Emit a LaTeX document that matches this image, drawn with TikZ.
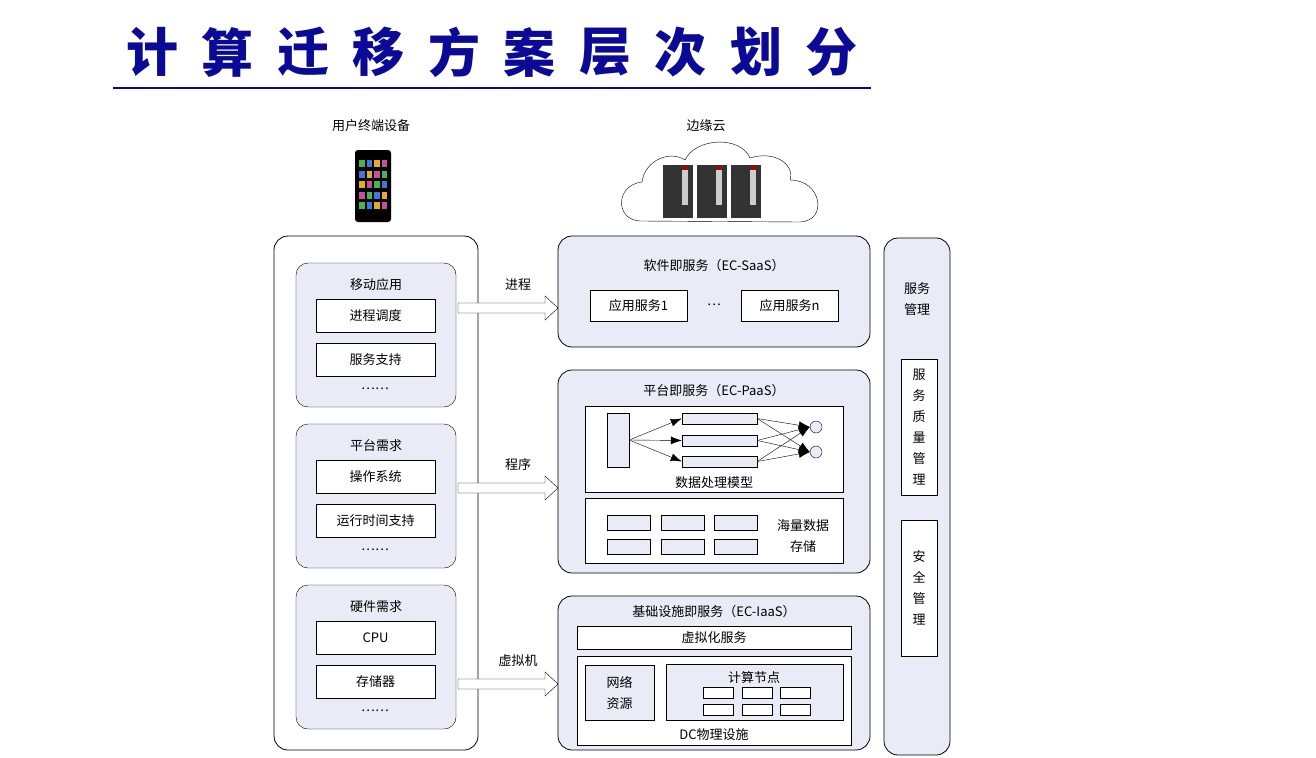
\documentclass[tikz,border=0pt]{standalone}
\usepackage{fontspec}
\setmainfont{Liberation Serif}
\newfontfamily\cjk{Noto Sans CJK SC}
\usetikzlibrary{positioning,arrows.meta}
\definecolor{lav}{RGB}{233,236,247}
\definecolor{titleblue}{RGB}{10,10,150}
\definecolor{app0}{RGB}{70,180,80}
\definecolor{app1}{RGB}{60,120,220}
\definecolor{app2}{RGB}{230,170,40}
\definecolor{app3}{RGB}{200,80,150}
\tikzset{
  panel/.style={draw, thick, rounded corners=14pt, fill=lav},
  grp/.style={draw, rounded corners=12pt, fill=lav},
  wbox/.style={draw, fill=white},
  bar/.style={draw, fill=lav},
  lbl/.style={font=\cjk\fontsize{13}{21}\selectfont, inner sep=1pt},
  blockarrow/.style={draw, fill=white, thin}
}
\begin{document}
\begin{tikzpicture}[x=1pt,y=-1pt]
    \useasboundingbox (0,0) rectangle (1316,757);
    %Title
    \foreach \c [count=\i] in {计,算,迁,移,方,案,层,次,划,分}
      \node[font=\cjk\bfseries\fontsize{52}{56}\selectfont, text=titleblue] at (152+75.5*\i-75.5,52) {\c};
    \draw[titleblue, line width=2.5pt] (113,88) -- (871,88);
    %Headers
    \node[lbl] (hdev) at (371,126) {用户终端设备};
    \node[lbl] (hedge) at (706,126) {边缘云};
    %Phone
    \fill[black, rounded corners=3pt] (355,150) rectangle (391,222);
    \foreach \r in {0,...,4}
      \foreach \c in {0,...,3}{
        \pgfmathtruncatemacro\m{mod(\r+\c,4)}
        \fill[app\m] (359+\c*7.5,160+\r*10.5) rectangle +(5.5,7);
      }
    %Cloud
    \draw[fill=white] (640,221) .. controls (615,220) and (615,185) .. (642,182)
      .. controls (645,160) and (670,150) .. (685,160)
      .. controls (695,138) and (740,135) .. (750,158)
      .. controls (775,150) and (795,165) .. (790,180)
      .. controls (822,180) and (828,221) .. (800,222) -- cycle;
    \foreach \x in {663,697,731}{
      \fill[black!80] (\x,165) rectangle +(30,53);
      \fill[gray!40] (\x+19,170) rectangle +(6,35);
      \fill[red!70!black] (\x+20,166) rectangle +(5,4);
    }
    %Left column
    \draw[thick, rounded corners=14pt, fill=white] (274,236) rectangle (478,750);
    \foreach \y/\t/\a/\b [count=\k] in {263/移动应用/进程调度/服务支持, 424/平台需求/操作系统/运行时间支持, 585/硬件需求/CPU/存储器}{
      \draw[grp] (296,\y) rectangle (456,\y+144);
      \node[lbl] (g\k) at (376,\y+22) {\t};
      \node[wbox, lbl, minimum width=119pt, minimum height=33pt] (g\k a) at (375.5,\y+53) {\a};
      \node[wbox, lbl, minimum width=119pt, minimum height=33pt, below=10pt of g\k a] (g\k b) {\b};
      \node[lbl] (g\k d) at (375,\y+126) {……};
    }
    %Block arrows
    \foreach \y/\t in {308/进程, 488/程序, 684/虚拟机}{
      \draw[blockarrow] (458,\y-5) -- (545,\y-5) -- (545,\y-12) -- (558,\y) -- (545,\y+12) -- (545,\y+5) -- (458,\y+5) -- cycle;
      \node[lbl] at (518,\y-23) {\t};
    }
    %SaaS
    \draw[panel] (558,236) rectangle (870,347);
    \node[lbl] (saas) at (714,266) {软件即服务（EC-SaaS）};
    \node[wbox, lbl, minimum width=97pt, minimum height=31pt] (app1) at (638.5,305.5) {应用服务1};
    \node[lbl] (appdots) at (714,305) {…};
    \node[wbox, lbl, minimum width=97pt, minimum height=31pt] (appn) at (789.5,305.5) {应用服务n};
    %PaaS
    \draw[panel] (558,370) rectangle (870,573);
    \node[lbl] (paas) at (714,391) {平台即服务（EC-PaaS）};
    \draw[wbox] (585,406) rectangle (843,492);
    \node[lbl] (model) at (714,483) {数据处理模型};
    \node[bar, minimum width=22pt, minimum height=54pt, inner sep=0pt] (src) at (618,440) {};
    \foreach \y [count=\k] in {418.5,440.5,461.5}
      \node[bar, minimum width=75pt, minimum height=11pt, inner sep=0pt] (b\k) at (719.5,\y) {};
    \node[bar, circle, minimum size=12pt, inner sep=0pt] (o1) at (816,427) {};
    \node[bar, circle, minimum size=12pt, inner sep=0pt] (o2) at (816,452) {};
    \foreach \k in {1,2,3}{
      \draw[-{Latex[length=11pt,width=8pt]}] (src.east) -- (b\k.west);
      \draw[-{Latex[length=11pt,width=8pt]}] (b\k.east) -- (o1.west);
      \draw[-{Latex[length=11pt,width=8pt]}] (b\k.east) -- (o2.west);
    }
    \draw[wbox] (585,498) rectangle (843,563);
    \foreach \x in {607,661,714}
      \foreach \y in {515,539}
        \draw[bar] (\x,\y) rectangle +(43,15);
    \node[lbl, align=center] (store) at (803,536) {海量数据\\存储};
    %IaaS
    \draw[panel] (558,596) rectangle (870,750);
    \node[lbl] (iaas) at (714,612) {基础设施即服务（EC-IaaS）};
    \node[wbox, lbl, minimum width=274pt, minimum height=23pt] (virt) at (714,637.5) {虚拟化服务};
    \draw[wbox] (577,656) rectangle (851,745);
    \node[lbl] (dc) at (714,735) {DC物理设施};
    \node[bar, lbl, align=center, minimum width=69pt, minimum height=55pt] (net) at (619.5,692.5) {网络\\资源};
    \draw[bar] (666,664) rectangle (843,720);
    \node[lbl] (comp) at (754,678) {计算节点};
    \foreach \x in {703,742,780}
      \foreach \y in {687,704}
        \draw[wbox] (\x,\y) rectangle +(30,11);
    %Service management
    \draw[panel] (884,238) rectangle (950,755);
    \node[lbl, align=center] (mgmt) at (917,299) {服务\\管理};
    \node[wbox, lbl, align=center, minimum width=36pt, minimum height=136pt] (qos) at (919,427) {服\\务\\质\\量\\管\\理};
    \node[wbox, lbl, align=center, minimum width=36pt, minimum height=136pt] (sec) at (919,588) {安\\全\\管\\理};
\end{tikzpicture}
\end{document}
